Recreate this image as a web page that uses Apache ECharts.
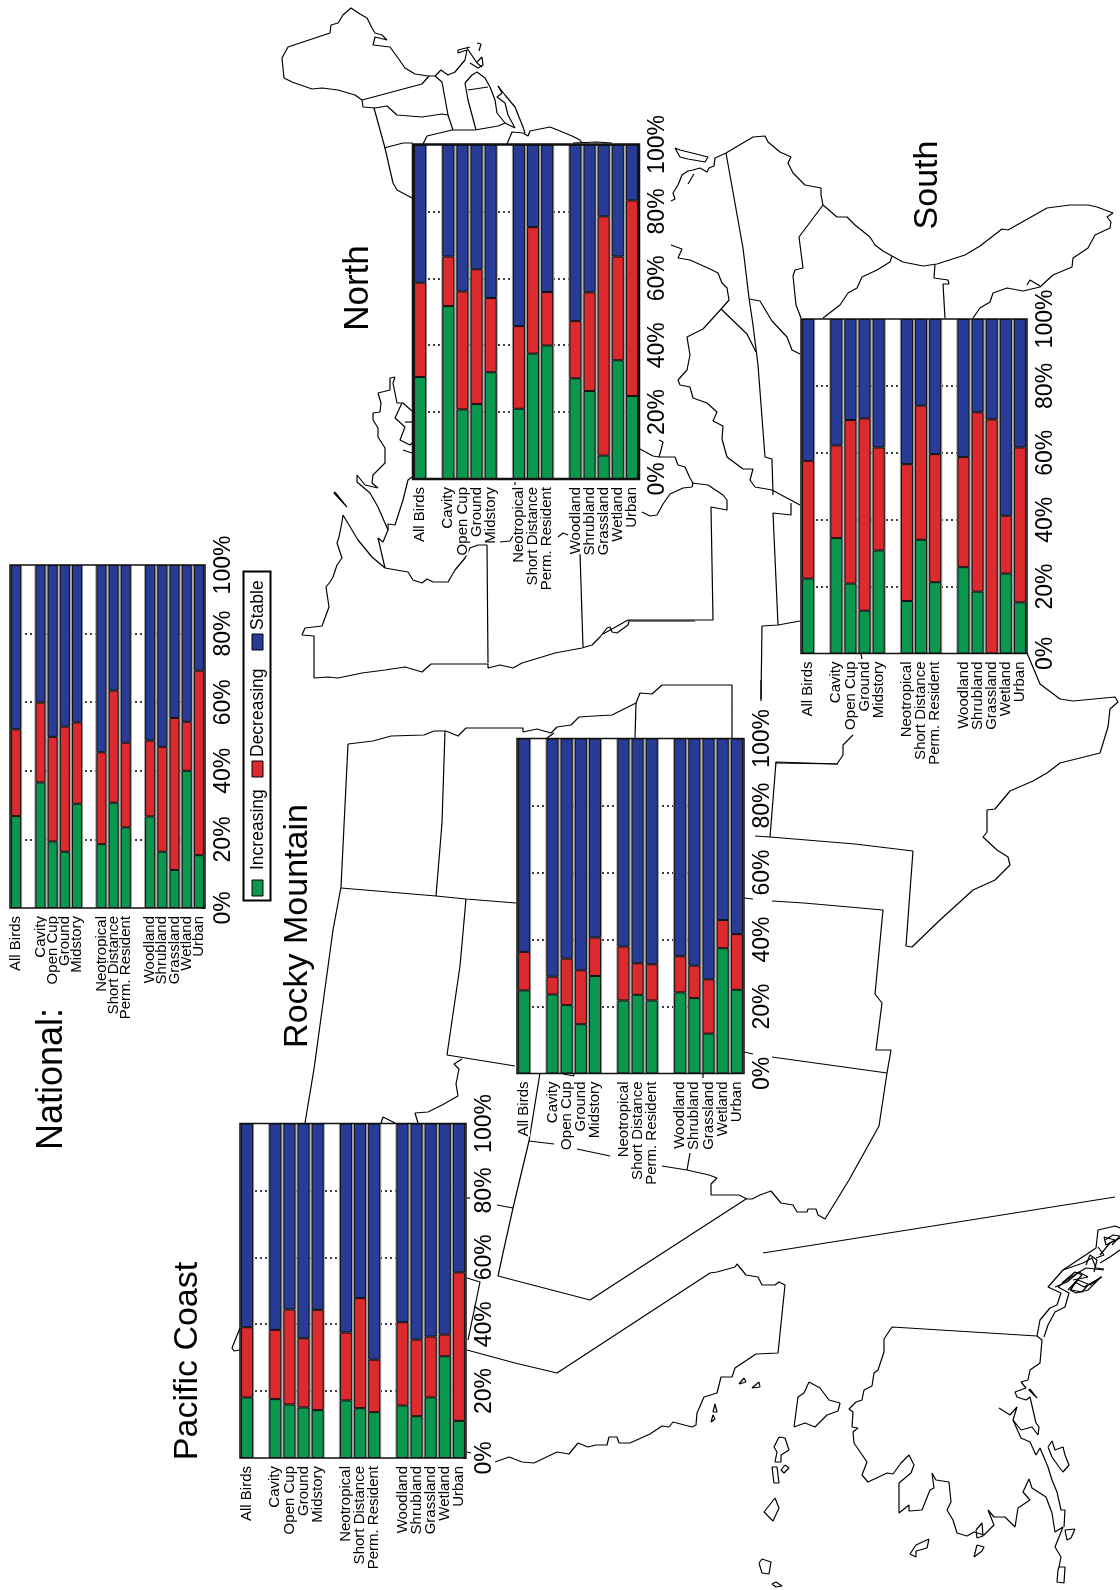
<!DOCTYPE html>
<html>
<head>
<meta charset="utf-8">
<title>Bird trends by region</title>
<style>
  html, body { margin: 0; padding: 0; background: #fff; }
  #chart { width: 1120px; height: 1590px; }
</style>
<script src="https://cdn.jsdelivr.net/npm/echarts@6/dist/echarts.min.js"></script>
</head>
<body>
<div id="chart"></div>
<script>
// blank names are the gaps between the species groups
const categories = ['All Birds', '', 'Cavity', 'Open Cup', 'Ground', 'Midstory', '', 'Neotropical', 'Short Distance', 'Perm. Resident', '', 'Woodland', 'Shrubland', 'Grassland', 'Wetland', 'Urban'];
const percentTicks = [0, 20, 40, 60, 80, 100];
const legendNames = ['Increasing', 'Decreasing', 'Stable'];

const nationalIncreasing = [26.8, null, 36.6, 19.4, 16.4, 30.4, null, 18.6, 30.7, 23.5, null, 26.7, 16.4, 11.1, 40.0, 15.4];
const nationalDecreasing = [25.3, null, 23.3, 30.5, 36.5, 23.7, null, 26.8, 32.7, 24.7, null, 22.1, 30.6, 44.3, 14.3, 53.8];
const nationalStable = [47.9, null, 40.1, 50.1, 47.1, 45.9, null, 54.6, 36.6, 51.8, null, 51.2, 53.0, 44.6, 45.7, 30.8];

const northIncreasing = [30.5, null, 51.7, 20.8, 22.4, 31.9, null, 21.0, 37.5, 39.9, null, 30.1, 26.3, 7.0, 35.5, 24.8];
const northDecreasing = [28.2, null, 14.8, 35.3, 40.3, 22.2, null, 24.7, 37.8, 16.0, null, 17.1, 29.5, 71.5, 31.0, 58.5];
const northStable = [41.3, null, 33.5, 43.9, 37.3, 45.9, null, 54.3, 24.7, 44.1, null, 52.8, 44.2, 21.5, 33.5, 16.7];

const southIncreasing = [22.4, null, 34.5, 20.9, 12.8, 30.8, null, 15.7, 34.0, 21.3, null, 25.8, 18.5, 0, 23.9, 15.3];
const southDecreasing = [35.2, null, 27.7, 48.9, 57.5, 30.8, null, 40.9, 40.1, 38.3, null, 32.9, 53.6, 70.0, 17.3, 46.3];
const southStable = [42.4, null, 37.8, 30.2, 29.7, 38.4, null, 43.4, 25.9, 40.4, null, 41.3, 27.9, 30.0, 58.8, 38.4];

const rockyIncreasing = [24.8, null, 23.6, 20.4, 14.7, 29.1, null, 21.8, 23.5, 21.8, null, 24.2, 22.5, 11.9, 37.4, 25.0];
const rockyDecreasing = [11.5, null, 5.3, 13.9, 16.1, 11.5, null, 16.1, 9.4, 10.8, null, 10.8, 9.7, 16.2, 8.4, 16.6];
const rockyStable = [63.7, null, 71.1, 65.7, 69.2, 59.4, null, 62.1, 67.1, 67.4, null, 65.0, 67.8, 71.9, 54.2, 58.4];

const pacificIncreasing = [18.1, null, 17.6, 16.0, 15.1, 14.3, null, 17.2, 14.9, 13.7, null, 15.7, 12.5, 18.1, 30.4, 11.1];
const pacificDecreasing = [21.0, null, 20.7, 28.4, 20.7, 30.0, null, 20.3, 32.9, 15.7, null, 24.9, 22.9, 18.2, 6.5, 44.4];
const pacificStable = [60.9, null, 61.7, 55.6, 64.2, 55.7, null, 62.5, 52.2, 70.6, null, 59.4, 64.6, 63.7, 63.1, 44.5];

// base map, in picture pixels
const northeastLines = [
  [[284,78],[282,58],[288,47],[330,33],[331,25],[338,23],[343,15],[351,8],[360,14],[367,18],[372,28],[375,33],[382,35],[387,40],[375,37],[373,45],[390,47],[398,58],[405,68],[415,74],[428,76],[435,76],[441,70],[448,75],[455,72],[465,60],[467,50],[458,53],[458,50],[470,47]],
  [[467,48],[477,63],[482,67]],
  [[477,43],[481,44],[479,51]],
  [[470,63],[478,68],[483,65],[482,57],[477,62]],
  [[284,78],[292,82],[312,89],[322,88],[338,90],[355,95],[362,100],[363,107],[375,108],[387,106],[397,115],[422,117],[442,114],[448,115]],
  [[362,100],[422,84],[429,76]],
  [[435,76],[442,82],[448,115],[453,130]],
  [[374,108],[385,148],[393,183],[397,190],[412,198]],
  [[384,148],[403,143],[413,143]],
  [[423,144],[427,136],[452,130],[475,130],[498,126],[505,123],[515,128]],
  [[465,83],[472,75],[477,72],[485,78],[490,87],[495,100],[497,113],[505,123]],
  [[465,83],[468,100],[476,130]],
  [[468,90],[488,87]],
  [[498,86],[505,95],[515,107],[523,127],[525,133]],
  [[498,86],[502,93],[497,97],[505,103],[508,115],[515,128]],
  [[507,144],[512,132],[523,133],[528,136],[530,131],[550,127],[560,131],[572,136],[580,140],[582,143]],
  [[573,143],[597,142],[612,143]],
  [[675,148],[680,150],[692,153],[708,157],[705,162],[688,159],[680,157],[675,148]],
  [[688,184],[694,174]]
];

const southeastLines = [
  [[671,201],[675,199],[673,193],[678,185],[682,175],[688,171],[693,170],[700,168],[707,172],[709,168],[714,166],[715,158],[726,153],[753,137],[765,136],[768,142],[780,152],[791,157],[788,163],[793,173],[805,185],[821,188],[821,195],[823,205],[837,217],[847,217],[855,225],[870,237],[875,245],[883,251],[892,256],[903,262],[923,266],[937,264],[965,255],[980,246],[1002,229],[1008,230],[1047,208],[1070,205],[1088,205],[1097,207],[1105,210],[1113,213],[1107,217],[1111,222],[1110,228],[1095,235],[1088,248],[1073,258],[1072,267],[1053,275],[1040,287],[1023,291],[1007,288],[993,293],[990,302],[980,308],[973,318]],
  [[1027,285],[1030,280],[1040,286]],
  [[726,153],[743,248],[749,298],[753,325],[758,365],[765,457],[772,459],[773,495]],
  [[823,205],[799,237],[803,268],[795,270],[793,276],[796,305],[801,318]],
  [[823,318],[840,305],[848,293],[857,288],[862,277],[877,270],[890,262],[892,256]],
  [[935,264],[934,278],[948,280],[949,284],[943,284],[945,318]],
  [[671,245],[682,249],[678,258],[690,260],[710,269],[718,273],[722,283],[727,288],[729,300],[722,308],[703,329],[687,337],[690,355],[687,370],[678,380],[680,385],[690,387],[693,398],[707,403],[717,412],[713,421],[723,426],[722,439],[727,457],[743,469],[753,469],[750,480],[755,487],[772,490],[800,505]],
  [[721,309],[747,334],[756,352]],
  [[749,299],[760,301],[772,321],[787,337],[792,350],[800,354]],
  [[640,449],[653,456],[659,457],[668,457],[675,457],[678,465],[685,467],[690,478],[693,483]],
  [[659,440],[663,442],[661,450],[659,457]],
  [[642,512],[650,516],[657,515],[663,504],[670,494],[683,488],[692,487],[693,483]],
  [[692,483],[708,485],[723,495],[727,500],[727,510],[711,507],[713,620],[628,620],[603,634]],
  [[773,513],[791,515],[791,503]],
  [[773,513],[778,625],[762,626],[761,699]],
  [[778,625],[800,621]],
  [[775,763],[837,764],[843,755],[843,745],[853,735]],
  [[861,654],[862,659]],
  [[1027,653],[1040,684],[1060,699],[1073,701],[1115,697],[1118,702],[1110,709],[1108,727],[1100,753],[1060,763],[1047,773],[1033,781],[1010,791],[995,809],[987,810],[987,832],[983,837],[997,850],[1008,857],[1010,865],[995,880],[973,890],[940,920],[912,947],[906,946],[910,891],[913,851]]
];

const midwestLines = [
  [[395,377],[390,378],[390,390],[378,393],[381,403],[380,412],[373,413],[373,420],[378,428],[378,437],[385,448],[385,463],[373,475],[372,483],[378,488],[365,485],[357,475],[357,482],[370,493],[378,507],[388,530],[383,542],[378,538],[385,568],[372,557],[358,540],[343,515],[342,522],[339,537],[337,543],[342,558],[337,565],[333,577],[330,582],[326,587],[329,607],[322,626],[305,628],[302,635],[314,636],[314,678],[328,677],[338,678],[362,673],[385,670],[405,667],[422,672],[431,664],[488,664],[488,668],[500,665],[513,668],[522,663],[542,657],[555,653],[582,648],[592,645],[600,637],[607,628],[610,627],[612,632],[617,633],[628,625],[629,621],[695,621]],
  [[388,530],[388,524],[395,525],[403,500],[408,480],[412,477]],
  [[395,377],[393,383],[397,403],[403,403],[412,411]],
  [[402,403],[395,418],[405,427],[400,440],[410,445],[412,443]],
  [[403,450],[412,453]],
  [[405,422],[412,422]],
  [[385,568],[408,572],[413,580],[422,583],[427,579],[433,582],[448,582],[455,570],[465,558],[470,548],[478,545],[487,545],[488,663]],
  [[580,553],[583,647]],
  [[500,542],[510,541],[513,536]],
  [[558,537],[563,533],[568,535]],
  [[515,482],[515,485]],
  [[335,492],[347,507],[346,508],[334,493],[335,492]]
];

const rockyLines = [
  [[348,744],[373,741],[391,736],[424,735],[434,731],[446,731],[458,736],[466,728],[523,728],[523,732],[537,729],[551,733],[557,727],[571,725],[579,717],[594,716],[612,715],[636,703],[640,693],[652,694],[662,685],[732,685],[732,738]],
  [[636,703],[635,738]],
  [[348,744],[341,887],[333,930],[314,1069],[305,1123]],
  [[341,888],[436,896],[466,899],[516,903]],
  [[445,731],[442,823],[436,896]],
  [[466,899],[460,966],[447,1055],[515,1066]],
  [[462,1059],[454,1064],[459,1069],[456,1084],[458,1096],[442,1105],[428,1112],[415,1113],[418,1123]],
  [[381,1123],[383,1117],[395,1123]],
  [[547,738],[554,733]],
  [[744,898],[753,899]],
  [[772,901],[804,903],[883,910],[875,994],[882,1003],[876,1050],[891,1050],[887,1073],[879,1126],[849,1180],[825,1219],[818,1215],[816,1209],[808,1209],[807,1212],[797,1212],[793,1205],[781,1203],[771,1191],[760,1195],[752,1199],[747,1199],[739,1195],[711,1195],[711,1184],[717,1178],[709,1175],[687,1170],[662,1166]],
  [[744,1052],[753,1054]],
  [[772,1057],[887,1073]],
  [[687,1170],[690,1153]],
  [[610,1156],[577,1149]],
  [[554,1144],[529,1141]],
  [[703,1074],[703,1078]],
  [[563,1074],[574,1076],[573,1073]],
  [[755,836],[770,837],[855,844],[913,851]],
  [[770,837],[776,762],[838,764]],
  [[761,680],[761,701]]
];

const pacificLines = [
  [[540,1073],[529,1141],[513,1208],[503,1253],[498,1276],[590,1300],[746,1199]],
  [[497,1205],[513,1208]],
  [[467,1278],[480,1282],[468,1340]],
  [[467,1350],[515,1363],[557,1373],[710,1273],[717,1272],[735,1267],[737,1264],[746,1275],[758,1277],[762,1285],[775,1285],[779,1282],[785,1285],[778,1353],[756,1354],[735,1368],[732,1377],[721,1377],[717,1393],[704,1397],[697,1413],[696,1425],[692,1427],[673,1422],[669,1427],[662,1426],[650,1434],[630,1443],[619,1443],[617,1437],[609,1437],[607,1445],[596,1445],[588,1447],[578,1443],[569,1454],[557,1452],[534,1463],[522,1462],[509,1457],[495,1462]],
  [[467,1198],[470,1198]],
  [[467,1452],[471,1453]],
  [[240,1328],[232,1348],[234,1351],[240,1350]]
];

const alaskaLines = [
  [[763,1253],[1115,1197]],
  [[1037,1336],[892,1327],[884,1339],[884,1352],[878,1370],[874,1373],[872,1386],[864,1390],[862,1400],[856,1402],[849,1409],[853,1412],[852,1427],[858,1428],[853,1432],[854,1443],[867,1462],[862,1475],[868,1482],[887,1473],[893,1474],[901,1463],[909,1455],[914,1465],[911,1473],[899,1483],[899,1513],[909,1505],[909,1511],[922,1510],[930,1490],[934,1488],[932,1473],[936,1480],[949,1482],[951,1502],[947,1510],[953,1520],[957,1533],[967,1536],[974,1532],[984,1535],[994,1525],[988,1510],[994,1517],[1005,1517],[1015,1527],[1018,1508],[1030,1500],[1023,1492],[1029,1479],[1032,1488],[1046,1497],[1052,1513],[1055,1532],[1063,1527],[1055,1547],[1061,1557],[1059,1567]],
  [[1037,1336],[1042,1340],[1040,1363],[1030,1370],[1028,1380],[1021,1382],[1026,1388],[1015,1392],[1017,1397],[1026,1400],[1030,1397],[1033,1410],[1036,1423],[1039,1427],[1038,1435],[1032,1427],[1021,1430],[1013,1420],[1017,1407],[1010,1415],[999,1408]],
  [[1013,1420],[1021,1438],[1030,1442],[1036,1455],[1040,1448],[1048,1467],[1052,1480],[1057,1492],[1061,1510],[1065,1510],[1064,1527]],
  [[1037,1336],[1040,1320],[1042,1318],[1050,1308],[1057,1305],[1061,1293],[1048,1287],[1063,1270],[1096,1248],[1098,1230],[1115,1226],[1120,1228]],
  [[1044,1337],[1048,1325],[1055,1312],[1065,1307],[1069,1293],[1058,1287],[1071,1277],[1086,1268],[1104,1270]],
  [[1070,1290],[1078,1280],[1090,1285],[1101,1277],[1088,1290],[1076,1293],[1070,1290]],
  [[1086,1265],[1090,1255],[1097,1260],[1094,1272]],
  [[1100,1255],[1110,1243],[1120,1238]],
  [[1105,1240],[1113,1235],[1120,1236],[1112,1245]],
  [[1062,1283],[1075,1272],[1082,1275],[1068,1290]],
  [[1063,1270],[1083,1263],[1092,1258],[1096,1268],[1104,1269]],
  [[1055,1287],[1067,1282],[1079,1272],[1088,1277],[1073,1280]],
  [[1071,1290],[1075,1282],[1084,1287],[1102,1277],[1088,1285],[1082,1292],[1071,1290]],
  [[1104,1237],[1115,1240],[1106,1245],[1104,1237]],
  [[1098,1247],[1104,1255],[1096,1258]],
  [[1100,1263],[1110,1257],[1120,1250]]
];

const islandLines = [
  [[809,1382],[820,1388],[829,1400],[840,1403],[838,1411],[827,1415],[815,1427],[805,1423],[794,1427],[798,1397],[804,1393],[809,1382]],
  [[744,1378],[746,1382],[739,1384],[738,1382],[744,1378]],
  [[759,1382],[760,1387],[752,1388],[759,1382]],
  [[715,1404],[717,1412],[713,1412],[715,1404]],
  [[713,1415],[715,1419],[711,1422],[713,1415]],
  [[779,1437],[785,1438],[789,1450],[781,1455],[781,1462],[775,1462],[777,1452],[774,1447],[779,1437]],
  [[785,1465],[789,1468],[784,1473],[781,1470],[785,1465]],
  [[772,1467],[777,1467],[779,1483],[774,1483],[772,1467]],
  [[775,1498],[779,1508],[773,1521],[764,1512],[775,1498]],
  [[759,1563],[762,1559],[771,1562],[769,1574],[762,1573],[759,1563]],
  [[772,1584],[776,1582],[782,1586],[776,1587],[772,1584]],
  [[1030,1389],[1037,1398],[1035,1397],[1029,1390],[1030,1389]],
  [[1048,1447],[1052,1441],[1055,1450],[1063,1447],[1065,1455],[1069,1465],[1063,1472],[1059,1467],[1052,1457],[1048,1447]],
  [[929,1539],[927,1548],[916,1551],[916,1557],[910,1554],[916,1545],[929,1539]],
  [[977,1545],[984,1547],[982,1551],[974,1557],[977,1545]],
  [[976,1530],[982,1523],[983,1536],[977,1538],[976,1530]],
  [[1059,1567],[1065,1567],[1064,1583],[1057,1582],[1058,1570],[1059,1567]],
  [[1075,1529],[1071,1538],[1067,1540],[1065,1530],[1075,1529]]
];

const green = '#0a984f';
const red = '#dc2a2e';
const blue = '#283c97';
const fontName = '"Liberation Sans", Arial, sans-serif';

const panels = [
  { left: 10, top: 565, width: 195, height: 343, barWidth: 10, frame: 1.5, labelSize: 15, inc: nationalIncreasing, dec: nationalDecreasing, sta: nationalStable },
  { left: 413, top: 144.5, width: 226, height: 334.5, barWidth: 12, frame: 2.5, labelSize: 15, inc: northIncreasing, dec: northDecreasing, sta: northStable },
  { left: 801, top: 319, width: 226, height: 334.5, barWidth: 12, frame: 1.5, labelSize: 15, inc: southIncreasing, dec: southDecreasing, sta: southStable },
  { left: 517, top: 738.5, width: 227, height: 335, barWidth: 12, frame: 1.5, labelSize: 15, inc: rockyIncreasing, dec: rockyDecreasing, sta: rockyStable },
  { left: 240, top: 1123.5, width: 226, height: 334.5, barWidth: 12, frame: 1.5, labelSize: 15, inc: pacificIncreasing, dec: pacificDecreasing, sta: pacificStable }
];

const allMapLines = [].concat(northeastLines, southeastLines, midwestLines, rockyLines, pacificLines, alaskaLines, islandLines);

const grids = [{ left: 0, top: 0, width: 1120, height: 1590, show: false }];
const xAxes = [{ type: 'value', gridIndex: 0, min: 0, max: 1120, show: false }];
const yAxes = [{ type: 'value', gridIndex: 0, min: 0, max: 1590, inverse: true, show: false }];
const series = allMapLines.map(line => ({
  type: 'line',
  xAxisIndex: 0,
  yAxisIndex: 0,
  data: line,
  showSymbol: false,
  silent: true,
  clip: false,
  z: 1,
  lineStyle: { color: '#000', width: 1.2 }
}));

panels.forEach((p, i) => {
  const gridIndex = grids.length;
  grids.push({ left: p.left, top: p.top, width: p.width, height: p.height, show: true, backgroundColor: '#fff', borderWidth: 0, z: 3 });
  const mainX = xAxes.length;
  xAxes.push({
    type: 'category',
    gridIndex: gridIndex,
    data: categories,
    z: 4,
    axisLine: { show: false },
    axisTick: { show: false },
    axisLabel: { interval: 0, rotate: 90, margin: 8, color: '#000', fontFamily: fontName, fontSize: p.labelSize, backgroundColor: '#fff', lineHeight: 12 }
  });
  // second category axis only carries the grey slot behind each bar
  const slotX = xAxes.length;
  xAxes.push({ type: 'category', gridIndex: gridIndex, data: categories, show: false });
  const yIndex = yAxes.length;
  yAxes.push({
    type: 'value',
    gridIndex: gridIndex,
    position: 'right',
    min: percentTicks[0],
    max: percentTicks[percentTicks.length - 1],
    interval: percentTicks[1] - percentTicks[0],
    z: 4,
    axisLine: { show: false },
    axisTick: { show: true, inside: true, length: 3, lineStyle: { color: '#000', width: 1 } },
    splitLine: { show: true, showMinLine: false, showMaxLine: false, lineStyle: { color: '#000', width: 1.5, type: [2, 3] } },
    axisLabel: { show: true, rotate: 90, margin: 10, color: '#000', fontFamily: fontName, fontSize: 23, lineHeight: 18, formatter: '{value}%', showMinLabel: true, showMaxLabel: true }
  });
  series.push({
    type: 'bar',
    xAxisIndex: slotX,
    yAxisIndex: yIndex,
    barWidth: '100%',
    silent: true,
    z: 5,
    itemStyle: { color: '#9d9d9d' },
    data: p.inc.map(v => (v === null ? null : 100))
  });
  [[legendNames[0], p.inc, green], [legendNames[1], p.dec, red], [legendNames[2], p.sta, blue]].forEach(s => {
    series.push({
      name: s[0],
      type: 'bar',
      stack: 'panel' + i,
      xAxisIndex: mainX,
      yAxisIndex: yIndex,
      barWidth: p.barWidth,
      z: 6,
      itemStyle: { color: s[2], borderColor: '#111', borderWidth: 1 },
      data: s[1]
    });
  });
});

// outlines go on their own grids so they sit over the bars
panels.forEach(p => {
  grids.push({ left: p.left, top: p.top, width: p.width, height: p.height, show: true, backgroundColor: 'transparent', borderColor: '#111', borderWidth: p.frame, z: 7 });
});

function rotatedText(text, x, y, size, align) {
  return {
    type: 'text',
    x: x,
    y: y,
    rotation: Math.PI / 2,
    z: 10,
    style: { text: text, fontFamily: fontName, fontSize: size, fill: '#000', align: align || 'center', verticalAlign: 'middle' }
  };
}

function legendSwatch(color, y) {
  return { type: 'rect', z: 10, shape: { x: 252, y: y, width: 11, height: 16 }, style: { fill: color, stroke: '#000', lineWidth: 1 } };
}

const graphics = [
  rotatedText('National:', 52, 1079, 36),
  rotatedText('Pacific Coast', 188, 1361, 34),
  rotatedText('Rocky Mountain', 298, 926, 34),
  rotatedText('North', 358, 288, 35),
  rotatedText('South', 928, 185, 34),
  { type: 'rect', z: 9, shape: { x: 243.5, y: 571.5, width: 27, height: 329 }, style: { fill: '#fff', stroke: '#000', lineWidth: 2 } },
  legendSwatch(green, 880),
  legendSwatch(red, 761),
  legendSwatch(blue, 634),
  rotatedText(legendNames[0], 258, 870, 17.5, 'left'),
  rotatedText(legendNames[1], 258, 757, 17.5, 'left'),
  rotatedText(legendNames[2], 258, 630, 17.5, 'left')
];

const chart = echarts.init(document.getElementById('chart'));
chart.setOption({
  animation: false,
  backgroundColor: '#fff',
  grid: grids,
  xAxis: xAxes,
  yAxis: yAxes,
  series: series,
  graphic: graphics
});
</script>
</body>
</html>
